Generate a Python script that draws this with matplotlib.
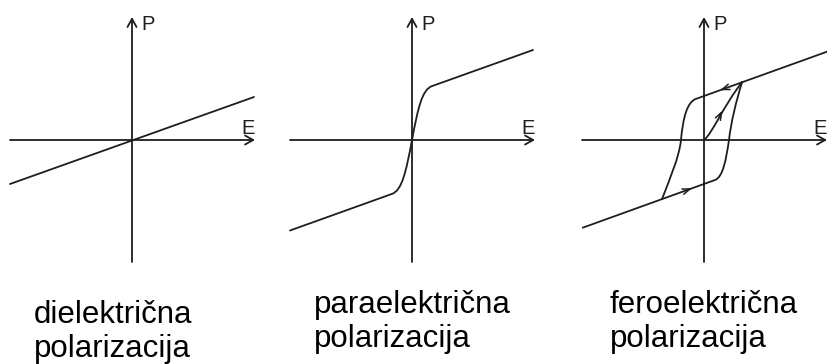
import matplotlib
matplotlib.use("Agg")
import matplotlib.pyplot as plt
from matplotlib.path import Path
from matplotlib.patches import PathPatch

plt.rcParams['font.family'] = ['Liberation Sans', 'DejaVu Sans']

W, H = 827, 364
INK = '#1e1e1e'

# ---- data (units: E, P relative to the axes crossing) ----
axis_E = [-122, 123]
axis_P = [-122, 123]

# dielectric: straight line through origin
diel_E = [-122, 122]
diel_P = [-44, 43]

# paraelectric: saturating curve (vertices + bezier control points)
para_E = [-122, -20, -10, -6, 0, 6, 10, 20, 121]
para_P = [-90.5, -53.9, -50.3, -32, 0, 32, 50.3, 53.9, 90]

# ferroelectric hysteresis
ferro_outer_upper_E = [38, 123]
ferro_outer_upper_P = [57.7, 88.3]
ferro_outer_lower_E = [-121, -42]
ferro_outer_lower_P = [-87.6, -59.1]
ferro_desc_E = [38, -8, -17, -21, -23, -25, -34, -42]
ferro_desc_P = [57.7, 41.1, 38, 22, 0, -18, -38, -59.1]
ferro_asc_E = [-42, 11, 19, 22, 25, 27, 32, 38]
ferro_asc_P = [-59.1, -40, -37, -20, 0, 18, 38, 57.7]
ferro_init_E = [0, 8, 20, 38]
ferro_init_P = [0, 6, 35, 57.7]
ferro_arrow_E = [16, -12, 18.5]
ferro_arrow_P = [49.8, -48.3, 29.5]
ferro_arrow_dE = [-1.0, 1.0, 1.0]
ferro_arrow_dP = [-0.36, 0.36, 1.9]

axis_labels = ['P', 'E']
captions = [['dielektrična', 'polarizacija'],
            ['paraelektrična', 'polarizacija'],
            ['feroelektrična', 'polarizacija']]

# ---- layout (pixels) ----
origins = [(132, 140), (412, 140), (704, 140)]
caption_pos = [(34, 323), (314, 313), (610, 313)]
HALF = 125

fig = plt.figure(figsize=(W / 100, H / 100), dpi=100)
fig.patch.set_facecolor('white')


def make_axes(ox, oy):
    ax = fig.add_axes([(ox - HALF) / W, (H - oy - HALF) / H, 2 * HALF / W, 2 * HALF / H])
    ax.set_xlim(-HALF, HALF)
    ax.set_ylim(-HALF, HALF)
    ax.axis('off')
    ax.patch.set_alpha(0)
    return ax


def draw_axes(ax):
    ap = dict(arrowstyle='->,head_length=0.45,head_width=0.25', lw=1.3, color=INK,
              shrinkA=0, shrinkB=0, mutation_scale=13)
    ax.annotate('', xy=(axis_E[1], 0), xytext=(axis_E[0], 0), arrowprops=ap,
                annotation_clip=False)
    ax.annotate('', xy=(0, axis_P[1]), xytext=(0, axis_P[0]), arrowprops=ap,
                annotation_clip=False)
    ax.text(9, 109.5, axis_labels[0], fontsize=14.5, color=INK, ha='left', va='baseline')
    ax.text(109, 6.5, axis_labels[1], fontsize=14.5, color=INK, ha='left', va='baseline')


def add_path(ax, E, P, codes):
    path = Path(list(zip(E, P)), codes)
    ax.add_patch(PathPatch(path, facecolor='none', edgecolor=INK, lw=1.3,
                           capstyle='round', joinstyle='round', clip_on=False))


axes = [make_axes(*o) for o in origins]
for ax in axes:
    draw_axes(ax)

# dielectric
axes[0].plot(diel_E, diel_P, color=INK, lw=1.3, solid_capstyle='round', clip_on=False)

# paraelectric
C4 = Path.CURVE4
add_path(axes[1], para_E, para_P,
         [Path.MOVETO, Path.LINETO, C4, C4, C4, C4, C4, C4, Path.LINETO])

# ferroelectric
ax3 = axes[2]
ax3.plot(ferro_outer_upper_E, ferro_outer_upper_P, color=INK, lw=1.3, clip_on=False)
ax3.plot(ferro_outer_lower_E, ferro_outer_lower_P, color=INK, lw=1.3, clip_on=False)
branch_codes = [Path.MOVETO, Path.LINETO, C4, C4, C4, C4, C4, C4]
add_path(ax3, ferro_desc_E, ferro_desc_P, branch_codes)
add_path(ax3, ferro_asc_E, ferro_asc_P, branch_codes)
add_path(ax3, ferro_init_E, ferro_init_P, [Path.MOVETO, C4, C4, C4])
for e, p, de, dp in zip(ferro_arrow_E, ferro_arrow_P, ferro_arrow_dE, ferro_arrow_dP):
    ax3.annotate('', xy=(e, p), xytext=(e - de * 3, p - dp * 3),
                 arrowprops=dict(arrowstyle='->,head_length=0.6,head_width=0.22',
                                 lw=1.1, color=INK, shrinkA=0, shrinkB=0,
                                 mutation_scale=9))

# captions
for (lines, (cx, cy)) in zip(captions, caption_pos):
    for k, line in enumerate(lines):
        fig.text(cx / W, 1 - (cy + 34 * k) / H, line, fontsize=22.5, color='black',
                 ha='left', va='baseline')

fig.savefig('out.png', dpi=100, facecolor='white')
